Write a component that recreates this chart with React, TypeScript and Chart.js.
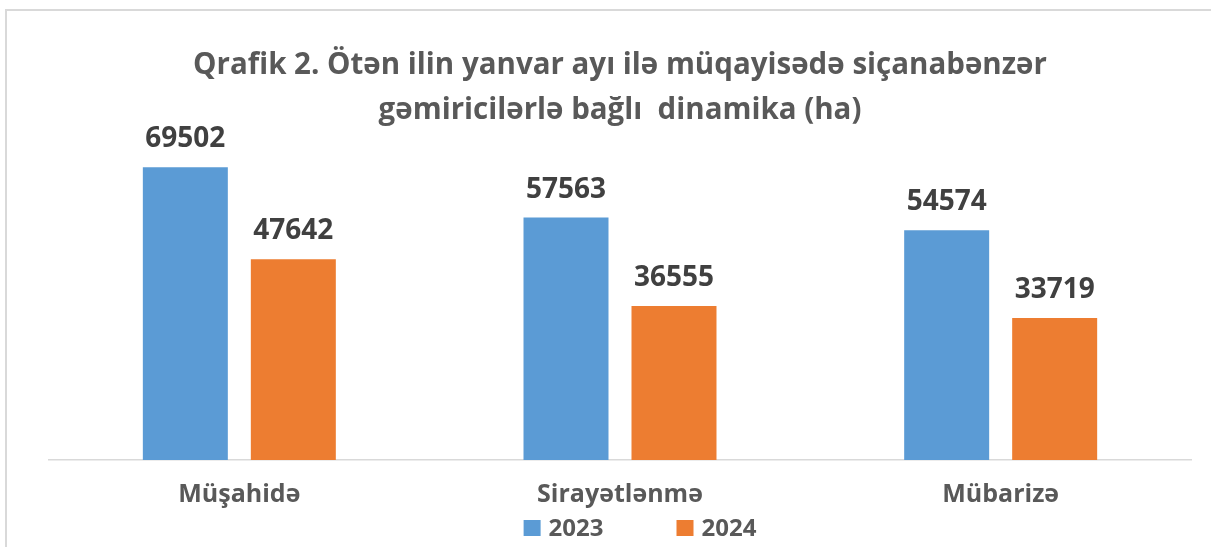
import React, { useEffect, useRef } from "react";
import { Chart, registerables } from "chart.js";

Chart.register(...registerables);

const titleLines = [
  "Qrafik 2. Ötən ilin yanvar ayı ilə müqayisədə siçanabənzər",
  "gəmiricilərlə bağlı  dinamika (ha)",
];
const categories = ["Müşahidə", "Sirayətlənmə", "Mübarizə"];
const seriesNames = ["2023", "2024"];
const values2023 = [69502, 57563, 54574];
const values2024 = [47642, 36555, 33719];
const colors = ["#5B9BD5", "#ED7D31"];

const FONT = "'Open Sans', 'Noto Sans', sans-serif";

const framePlugin = {
  id: "frame",
  beforeDraw(chart: any) {
    const ctx = chart.ctx;
    ctx.save();
    ctx.fillStyle = "#ffffff";
    ctx.fillRect(0, 0, chart.width, chart.height);
    ctx.strokeStyle = "#D9D9D9";
    ctx.lineWidth = 2;
    ctx.strokeRect(6, 10, chart.width + 50, chart.height + 50);
    ctx.restore();
  },
};

const valueLabelPlugin = {
  id: "valueLabels",
  afterDatasetsDraw(chart: any) {
    const ctx = chart.ctx;
    ctx.save();
    ctx.font = `bold 28px ${FONT}`;
    ctx.fillStyle = "#404040";
    ctx.textAlign = "center";
    ctx.textBaseline = "alphabetic";
    chart.data.datasets.forEach((ds: any, di: number) => {
      const meta = chart.getDatasetMeta(di);
      meta.data.forEach((bar: any, i: number) => {
        ctx.fillText(String(ds.data[i]), bar.x, bar.y - 20);
      });
    });
    ctx.restore();
  },
};

const legendPlugin = {
  id: "customLegend",
  afterDraw(chart: any) {
    const ctx = chart.ctx;
    const area = chart.chartArea;
    ctx.save();
    ctx.font = `bold 24px ${FONT}`;
    ctx.textBaseline = "alphabetic";
    ctx.textAlign = "left";
    const box = 17;
    const gapBoxText = 8;
    const gapItems = 73;
    const items = chart.data.datasets.map((ds: any) => ({
      text: ds.label,
      color: ds.backgroundColor,
      w: box + gapBoxText + ctx.measureText(ds.label).width,
    }));
    const total =
      items.reduce((s: number, it: any) => s + it.w, 0) + gapItems * (items.length - 1);
    let x = (area.left + area.right) / 2 + 20 - total / 2;
    const baseline = 536;
    items.forEach((it: any) => {
      ctx.fillStyle = it.color;
      ctx.fillRect(x, baseline - 16, box, 16);
      ctx.fillStyle = "#595959";
      ctx.fillText(it.text, x + box + gapBoxText, baseline);
      x += it.w + gapItems;
    });
    ctx.restore();
  },
};

export default function App() {
  const ref = useRef<HTMLCanvasElement | null>(null);
  useEffect(() => {
    if (!ref.current) return;
    const chart = new Chart(ref.current, {
      type: "bar",
      data: {
        labels: categories,
        datasets: [
          {
            label: seriesNames[0],
            data: values2023,
            backgroundColor: colors[0],
            categoryPercentage: 0.5674,
            barPercentage: 0.787,
          },
          {
            label: seriesNames[1],
            data: values2024,
            backgroundColor: colors[1],
            categoryPercentage: 0.5674,
            barPercentage: 0.787,
          },
        ],
      },
      options: {
        animation: false,
        responsive: true,
        maintainAspectRatio: false,
        layout: { padding: { left: 49, right: 20, top: 0, bottom: 17 } },
        plugins: {
          legend: { display: false },
          tooltip: { enabled: false },
          title: {
            display: true,
            text: titleLines,
            color: "#595959",
            font: { family: FONT, size: 29.5, weight: "bold", lineHeight: 1.525 },
            padding: { top: 42.8, bottom: 0 },
          },
        },
        scales: {
          x: {
            grid: { display: false, drawTicks: false },
            border: { display: true, color: "#D9D9D9", width: 1.5 },
            ticks: {
              color: "#595959",
              font: { family: FONT, size: 25, weight: "bold", lineHeight: 1.2 },
              padding: 20,
            },
          },
          y: {
            display: false,
            min: 0,
            max: 77700,
          },
        },
      },
      plugins: [framePlugin, valueLabelPlugin, legendPlugin],
    });
    return () => chart.destroy();
  }, []);
  return (
    <div style={{ position: "fixed", left: 0, top: 0, width: 1211, height: 547, overflow: "hidden", background: "#fff" }}>
      <canvas ref={ref} />
    </div>
  );
}
